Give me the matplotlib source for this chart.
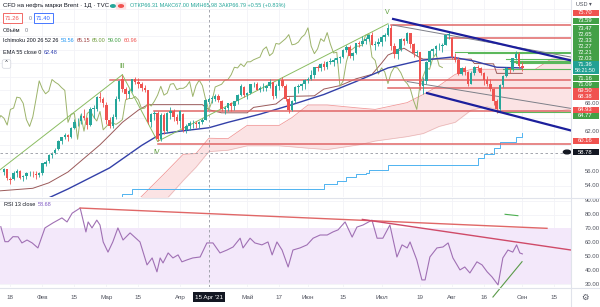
import matplotlib
matplotlib.use('Agg')
import matplotlib.pyplot as plt
import matplotlib.transforms as mtransforms
from matplotlib.patches import Rectangle, FancyBboxPatch
import numpy as np

plt.rcParams['font.family'] = ['Liberation Sans', 'DejaVu Sans']

# daily candles, 14 Jan .. 1 Sep (index = trading day)
open_ = [56.0, 56.4, 55.0, 54.9, 55.9, 56.1, 55.2, 55.4, 55.8, 55.9, 55.7, 55.5, 55.8, 57.2, 57.6, 58.5, 58.8, 59.4, 60.6, 61.1,
         61.4, 61.2, 62.5, 63.3, 63.5, 64.3, 63.9, 62.9, 65.2, 65.3, 67.0, 66.8, 65.8, 63.7, 62.8, 64.1, 66.8, 69.6, 68.2, 67.5,
         67.9, 69.6, 69.3, 68.9, 68.4, 68.0, 63.3, 64.5, 64.6, 60.8, 64.4, 62.0, 64.6, 65.0, 64.1, 63.5, 64.5, 62.2, 62.7, 63.2,
         63.2, 63.0, 63.3, 63.7, 66.3, 66.8, 66.8, 67.1, 66.5, 65.3, 65.4, 66.1, 65.7, 66.4, 67.3, 68.5, 67.3, 67.6, 68.9, 69.0,
         68.1, 68.3, 68.3, 68.6, 69.3, 67.1, 68.7, 69.5, 68.7, 66.7, 65.1, 66.4, 68.5, 68.7, 68.9, 69.5, 69.6, 70.3, 71.4, 71.3,
         71.9, 71.5, 72.2, 72.2, 72.5, 72.7, 72.9, 74.0, 74.4, 73.1, 73.5, 74.9, 74.8, 75.2, 75.6, 76.2, 74.7, 74.8, 75.1, 75.8,
         76.2, 77.2, 74.5, 73.4, 74.1, 75.6, 75.2, 76.5, 74.8, 73.5, 73.6, 68.6, 69.4, 72.2, 73.8, 74.1, 74.5, 74.5, 74.7, 76.1,
         75.7, 72.9, 72.4, 70.4, 71.3, 70.7, 69.0, 70.6, 71.4, 71.3, 70.6, 69.5, 69.0, 68.2, 66.5, 65.2, 68.8, 70.1, 71.3, 71.1,
         72.7, 73.4, 71.6]
high = [56.6, 56.5, 55.3, 56.1, 56.4, 56.3, 55.6, 56.0, 56.2, 56.2, 56.1, 56.0, 57.3, 57.8, 58.6, 59.0, 59.5, 60.7, 61.2, 61.7,
        61.6, 62.6, 63.8, 64.0, 64.6, 65.3, 64.1, 65.5, 65.8, 67.2, 67.7, 67.0, 66.3, 64.1, 64.5, 67.1, 69.5, 70.3, 68.5, 68.2,
        69.7, 70.0, 69.8, 69.2, 68.8, 68.1, 64.6, 65.0, 64.9, 64.7, 64.6, 64.8, 65.5, 65.2, 64.5, 65.1, 64.7, 63.0, 63.5, 63.7,
        63.5, 63.5, 64.0, 66.7, 67.0, 67.2, 67.5, 67.5, 66.6, 65.7, 66.2, 66.3, 66.5, 67.4, 68.9, 68.6, 67.8, 69.0, 69.3, 69.2,
        68.7, 69.1, 68.8, 69.7, 69.3, 68.9, 69.6, 70.0, 68.9, 67.0, 66.6, 68.6, 68.9, 69.1, 69.6, 70.0, 71.0, 71.4, 71.8, 72.0,
        72.3, 72.3, 72.8, 72.7, 72.9, 73.1, 74.1, 74.7, 74.6, 73.7, 74.9, 75.2, 76.0, 75.9, 76.3, 76.6, 75.3, 75.7, 76.2, 76.4,
        77.8, 77.6, 75.0, 74.2, 75.7, 75.7, 76.6, 76.5, 75.0, 74.0, 73.6, 69.9, 72.3, 73.9, 74.2, 74.7, 74.9, 75.0, 76.1, 76.6,
        75.9, 73.5, 72.9, 71.5, 71.6, 70.8, 70.9, 71.6, 71.8, 71.5, 70.7, 70.1, 69.7, 68.4, 66.7, 68.9, 70.3, 71.4, 71.5, 72.8,
        73.8, 73.7, 72.2]
low = [55.6, 54.8, 54.3, 54.8, 55.3, 55.0, 54.6, 55.0, 55.4, 55.3, 54.9, 55.2, 55.6, 56.9, 57.3, 58.0, 58.6, 59.2, 60.1, 60.8,
       60.5, 61.0, 62.3, 62.8, 63.0, 63.7, 62.3, 62.7, 64.0, 64.9, 66.3, 65.6, 63.1, 62.4, 62.4, 63.8, 66.5, 67.8, 66.8, 66.9,
       67.7, 68.9, 68.3, 67.9, 67.7, 63.1, 62.6, 63.6, 60.5, 60.6, 61.6, 61.8, 63.8, 63.5, 63.0, 62.4, 61.9, 61.8, 62.2, 62.5,
       62.4, 62.5, 63.0, 63.6, 66.0, 66.2, 66.5, 66.3, 64.9, 64.5, 65.0, 64.9, 65.1, 66.0, 67.1, 67.0, 66.8, 67.4, 68.5, 68.0,
       67.7, 67.9, 67.9, 68.3, 66.7, 66.9, 68.0, 68.5, 66.5, 64.6, 64.9, 66.2, 67.6, 68.1, 68.2, 69.1, 69.5, 69.8, 70.9, 70.9,
       71.0, 71.2, 71.9, 71.6, 72.0, 72.0, 72.8, 73.6, 72.7, 72.4, 73.3, 74.4, 74.5, 74.8, 75.2, 74.6, 74.0, 74.5, 74.5, 75.2,
       76.0, 74.0, 72.8, 72.6, 73.8, 74.7, 75.0, 74.3, 72.9, 73.0, 68.1, 67.4, 68.9, 71.8, 73.1, 73.0, 73.9, 73.6, 74.6, 75.5,
       72.6, 72.2, 70.2, 70.3, 70.3, 68.6, 68.9, 70.3, 70.8, 70.3, 68.8, 68.7, 67.9, 65.8, 64.6, 65.0, 68.5, 69.9, 70.5, 70.8,
       72.4, 71.3, 70.9]
close = [56.4, 55.1, 54.8, 55.9, 56.1, 55.1, 55.4, 55.9, 55.9, 55.8, 55.5, 55.9, 57.3, 57.5, 58.5, 58.8, 59.3, 60.6, 61.1, 61.5,
         61.1, 62.4, 63.3, 63.4, 64.3, 63.9, 62.9, 65.2, 65.4, 67.0, 66.9, 66.1, 63.7, 62.7, 64.1, 66.7, 69.4, 68.2, 67.5, 67.9,
         69.6, 69.2, 68.9, 68.4, 68.0, 63.3, 64.5, 64.6, 60.8, 64.4, 62.0, 64.6, 65.0, 64.1, 63.5, 64.9, 62.2, 62.7, 63.2, 63.2,
         63.0, 63.3, 63.7, 66.6, 66.8, 66.8, 67.1, 66.6, 65.3, 65.4, 66.1, 65.7, 66.4, 67.3, 68.6, 67.3, 67.6, 68.9, 69.0, 68.1,
         68.3, 68.3, 68.6, 69.3, 67.1, 68.7, 69.5, 68.7, 66.7, 65.1, 66.4, 68.5, 68.7, 68.9, 69.5, 69.6, 70.3, 71.4, 71.3, 71.9,
         71.5, 72.2, 72.2, 72.5, 72.7, 72.9, 74.0, 74.4, 73.1, 73.5, 74.9, 74.8, 75.2, 75.6, 76.2, 74.7, 74.8, 75.1, 75.8, 76.2,
         77.2, 74.5, 73.4, 74.1, 75.6, 75.2, 76.5, 74.8, 73.5, 73.6, 68.6, 69.4, 72.2, 73.8, 74.1, 74.5, 74.5, 74.7, 76.1, 76.3,
         72.9, 72.4, 70.4, 71.3, 70.7, 69.0, 70.6, 71.4, 71.3, 70.6, 69.5, 69.0, 68.2, 66.5, 65.2, 68.8, 70.1, 71.3, 71.1, 72.7,
         73.4, 71.6, 71.36]

# EMA 55
ema_x = [14, 20, 33, 43, 49, 55, 64, 70, 80, 90, 100, 110, 120, 130, 140, 147, 154, 162]
ema_val = [52.2, 53.5, 56.6, 59.9, 61.6, 62.0, 62.5, 63.3, 64.5, 65.9, 67.4, 69.3, 71.3, 72.4, 72.9, 72.3, 71.4, 71.3]

# Ichimoku 200 26 52 26
kijun_x = [-2, 9, 14, 20, 25, 30, 33, 37, 42, 45, 62, 64, 68, 76, 78, 85, 88, 97, 100, 105, 110, 115, 118, 120, 125,
           130, 131, 146, 147, 153, 154, 162]
kijun_val = [53.2, 53.6, 54.4, 56.0, 58.0, 60.0, 61.4, 63.3, 65.1, 65.9, 65.9, 65.15, 64.7, 64.7, 65.5, 66.0, 67.1, 67.2,
             68.2, 68.7, 69.7, 70.35, 72.0, 73.2, 74.2, 72.8, 72.6, 72.6, 71.95, 71.9, 70.5, 70.5]
conv_x = [30, 34, 37, 40, 64, 100, 104, 107, 110, 113, 114, 120, 146, 148, 150, 153, 155, 160, 162]
conv_val = [48.4, 51.0, 52.7, 53.5, 53.56, 54.2, 54.6, 55.3, 55.65, 55.8, 56.3, 57.05, 57.05, 58.0, 58.6, 59.5, 60.4, 61.2, 61.8]
cloud_x = [40, 50, 56, 60, 64, 70, 76, 86, 90, 95, 101, 111, 116, 126, 131, 136, 141, 146, 151, 156, 166, 171, 177]
span_a = [47.5, 51.6, 54.75, 56.7, 59.0, 59.2, 59.85, 59.85, 59.7, 59.5, 59.3, 60.0, 60.55, 61.2, 61.65, 62.7, 63.3,
          65.1, 65.6, 64.9, 64.8, 64.8, 65.25]
span_b = [51.0, 55.7, 58.6, 58.7, 60.96, 60.9, 62.85, 62.85, 64.0, 65.85, 65.85, 65.4, 65.2, 66.2, 67.4, 68.7, 70.35,
          71.1, 71.1, 71.1, 71.1, 72.6, 72.6]

# RSI 13
rsi_x = [-1, 0.3, 1.3, 2.8, 4.4, 5.6, 7.2, 8.8, 10.6, 12.8, 15.3, 18.1, 19.7, 21.3, 23.8, 25.6, 26.3, 27.5, 29, 30,
         31, 32.5, 34, 35.6, 37.2, 39.4, 42.5, 44.7, 46.3, 47.8, 48.8, 49.7, 51.3, 52.8, 54.4, 55.6, 57.2, 59, 61.3, 63.4,
         65.3, 67.5, 69.7, 71.6, 73.8, 74.7, 76.9, 78.4, 80.6, 82.5, 83.8, 85.3, 86.9, 88.8, 90.3, 92.5, 94.7, 96.6, 98.8, 101,
         102.8, 104.4, 106.6, 108.8, 110.3, 112.2, 115, 116.6, 118.4, 120.6, 122.8, 124.4, 126, 126.9, 129, 130.6, 131.6, 133.1,
         135.3, 137.2, 138.8, 140.3, 142.5, 144, 145.6, 147.8, 149.4, 151, 152.5, 154.4, 155.9, 157.5, 159, 160.2, 161.2, 162]
rsi_val = [71.3, 60.5, 60.5, 64.1, 64.0, 59.6, 61.7, 59.6, 56.0, 70.4, 74.0, 77.6, 74.7, 81.0, 84.7, 67.5, 74.7, 70.4, 76.0,
           72.5, 60.3, 53.0, 60.3, 70.4, 61.7, 66.8, 60.3, 43.8, 48.8, 38.8, 48.8, 45.2, 52.4, 48.8, 51.0, 46.0, 47.4, 48.8,
           49.5, 59.6, 59.6, 52.4, 54.5, 56.7, 63.0, 56.0, 63.0, 59.6, 58.2, 60.3, 51.0, 60.3, 54.5, 42.3, 54.5, 56.0,
           58.2, 63.0, 65.3, 65.3, 67.5, 69.0, 74.7, 63.8, 71.0, 72.5, 76.0, 63.0, 63.0, 72.5, 49.5, 58.2, 56.0, 60.3, 47.4,
           33.0, 33.0, 49.5, 56.0, 56.7, 59.6, 48.8, 40.2, 42.3, 38.0, 46.0, 43.8, 38.8, 35.2, 29.4, 48.8, 54.5, 53.0, 58.2,
           52.4, 51.7]

# drawn levels: (price, first bar)
red_levels = [77.6, 75.70, 69.50, 68.38, 64.93, 60.16]
red_from = [121, 138, 33, 120, 47, 48]
green_levels = [73.59, 73.47, 72.65, 72.33, 72.27, 72.21, 72.03, 71.09, 64.77]
green_from = [141, 145, 157, 158, 159, 159, 160, 156, 154]
# trend lines: x0, y0, x1, y1
blue_lines = [(121.6, 78.5, 177.2, 72.4), (132.2, 67.6, 177.2, 62.1)]
grey_lines = [(121.6, 77.6, 177.2, 72.9), (126.0, 69.3, 177.2, 65.35)]
wave_lines = [(-1.3, 56.3, 37, 70.3), (37, 70.3, 48, 60.5), (48, 60.5, 120, 77.8)]
wave_labels = ['III', 'IV', 'V']
wave_label_pos = [(37, 71.5), (47.7, 58.9), (119.7, 79.5)]
rsi_red_lines = [(23.8, 84.7, 169.7, 70.1), (112, 76.5, 177.2, 54.5)]

crosshair_bar = 64
crosshair_price = 58.78

tick_pos = [2, 12, 22, 32, 42, 55, 76, 86, 95, 106, 118, 130, 140, 150, 162, 172]
tick_lab = ['18', 'Фев', '15', 'Мар', '15', 'Апр', 'Май', '17', 'Июн', '15', 'Июл', '19', 'Авг', '16', 'Сен', '15']

badge_text = ['75.70', '73.59', '73.47', '72.65', '72.33', '72.27', '72.21', '72.03', '71.16', '71.09',
              '69.50', '68.38', '64.93', '64.77', '60.16']
badge_kind = ['r', 'g', 'g', 'g', 'g', 'g', 'g', 'g', 'g', 'g', 'r', 'r', 'r', 'g', 'r']
badge_y = [13, 21, 28, 34.5, 41, 47, 53, 59, 78, 85, 91, 97, 110, 116, 141]

W, H = 600, 307
RIGHT = 571
UP, DOWN = '#26a69a', '#ef5350'


def fx(px):
    return px / W


def fy(py):
    return 1 - py / H


fig = plt.figure(figsize=(W / 100, H / 100), dpi=100)
fig.patch.set_facecolor('white')
ax = fig.add_axes([0, fy(197), fx(RIGHT), 197 / H])
rsi = fig.add_axes([0, fy(287), fx(RIGHT), 88 / H], sharex=ax)
for a in (ax, rsi):
    a.set_facecolor('white')
    for s in a.spines.values():
        s.set_visible(False)
    a.tick_params(left=False, bottom=False, labelleft=False, labelbottom=False)

ax.set_xlim(-1.25, 177.2)
ax.set_ylim(52.32, 81.29)
rsi.set_ylim(27.9, 91.2)

# grid
for p in np.arange(54, 81, 2):
    ax.axhline(p, color='#f2f3f7', lw=0.6, zorder=0)
for v in range(30, 91, 10):
    rsi.axhline(v, color='#f2f3f7', lw=0.6, zorder=0)
for t in tick_pos:
    ax.axvline(t, color='#f2f3f7', lw=0.6, zorder=0)
    rsi.axvline(t, color='#f2f3f7', lw=0.6, zorder=0)

# ichimoku cloud and lines
ax.fill_between(cloud_x, span_a, span_b, color='#fbe3e4', lw=0, zorder=1)
ax.plot(cloud_x, span_b, color='#f19a9a', lw=0.6, zorder=2)
ax.plot(cloud_x, span_a, color='#e8b4b4', lw=0.5, zorder=2)
ax.plot(conv_x, conv_val, color='#4fb3f0', lw=0.7, drawstyle='steps-post', zorder=2)
ax.plot(kijun_x, kijun_val, color='#9b5a5a', lw=0.7, zorder=3)
idx = np.arange(len(close))
ax.plot(idx - 25, close, color='#9cb36a', lw=0.7, zorder=3)
ax.plot(ema_x, ema_val, color='#3340a8', lw=1.0, zorder=3)

# drawings
for p, x0 in zip(red_levels, red_from):
    ax.plot([x0, 177.2], [p, p], color='#e06767', lw=1.1, zorder=3)
for p, x0 in zip(green_levels, green_from):
    ax.plot([x0, 177.2], [p, p], color='#5cb85c', lw=0.8, zorder=3)
for x0, y0, x1, y1 in grey_lines:
    ax.plot([x0, x1], [y0, y1], color='#7d7f88', lw=0.7, zorder=3)
for x0, y0, x1, y1 in blue_lines:
    ax.plot([x0, x1], [y0, y1], color='#1c1f9c', lw=1.6, zorder=6)
for x0, y0, x1, y1 in wave_lines:
    ax.plot([x0, x1], [y0, y1], color='#8bbd62', lw=0.7, zorder=3)
for lab, (x, y) in zip(wave_labels, wave_label_pos):
    ax.text(x, y, lab, color='#5c9e3a', fontsize=5, ha='center', va='center', zorder=7)

# candles
o, h, l, c = map(np.array, (open_, high, low, close))
col = np.where(c >= o, UP, DOWN)
ax.vlines(idx, l, h, colors=col, lw=0.6, zorder=4)
ax.bar(idx, np.maximum(np.abs(c - o), 0.06), 0.8, bottom=np.minimum(o, c), color=col, lw=0, zorder=5)

# crosshair
ax.axhline(crosshair_price, color='#9598a1', lw=0.6, ls=(0, (3, 3)), zorder=8)
for a in (ax, rsi):
    a.axvline(crosshair_bar, color='#9598a1', lw=0.6, ls=(0, (3, 3)), zorder=8)

# RSI pane
rsi.axhspan(30, 70, color='#f3e8fa', lw=0, zorder=0)
rsi.plot(rsi_x, rsi_val, color='#a070b4', lw=0.8, zorder=3)
for (x0, y0, x1, y1), cl in zip(rsi_red_lines, ['#e06767', '#cf4a68']):
    rsi.plot([x0, x1], [y0, y1], color=cl, lw=1.0, zorder=4)
rsi.plot([156.6, 160.6], [80.2, 79.2], color='#4caf50', lw=0.8, zorder=4)
rsi.plot([152.8, 161.9], [20.7, 46.1], color='#5a9a48', lw=0.8, zorder=4, clip_on=False)

# separators
fig.add_artist(plt.Line2D([0, 1], [fy(198), fy(198)], color='#e0e3eb', lw=0.8))
fig.add_artist(plt.Line2D([0, 1], [fy(287.5), fy(287.5)], color='#e0e3eb', lw=0.8))
fig.add_artist(plt.Line2D([fx(RIGHT), fx(RIGHT)], [0, 1], color='#e0e3eb', lw=0.8))

# right price scale
ytr = ax.get_yaxis_transform()
for p in [54, 56, 62, 66]:
    ax.text(1.024, p, f'{p:.2f}', transform=ytr, fontsize=4.3, color='#50535e', ha='left', va='center', clip_on=False)
rtr = rsi.get_yaxis_transform()
for v in range(30, 91, 10):
    rsi.text(1.024, v, f'{v:.2f}', transform=rtr, fontsize=4.3, color='#50535e', ha='left', va='center', clip_on=False)

kind_col = {'r': '#f0524f', 'g': '#43a047'}
for t, k, y in zip(badge_text, badge_kind, badge_y):
    fig.add_artist(Rectangle((fx(572.5), fy(y + 3.1)), fx(26), 6.2 / H, transform=fig.transFigure,
                             color=kind_col[k], lw=0))
    fig.text(fx(585.5), fy(y), t, color='white', fontsize=4.2, ha='center', va='center')
# last price with countdown
fig.add_artist(Rectangle((fx(572.5), fy(74)), fx(26), 13 / H, transform=fig.transFigure, color='#22a093', lw=0))
fig.text(fx(585.5), fy(64.5), '71.36', color='white', fontsize=4.2, ha='center', va='center')
fig.text(fx(585.5), fy(70.8), '58:21:50', color='white', fontsize=3.8, ha='center', va='center')
# crosshair price
fig.add_artist(Rectangle((fx(572.5), fy(155.2)), fx(26), 6.4 / H, transform=fig.transFigure, color='#131722', lw=0))
fig.text(fx(585.5), fy(152), '58.78', color='white', fontsize=4.2, ha='center', va='center')
fig.add_artist(plt.Circle((fx(567), fy(152)), 0.006, transform=fig.transFigure, color='#131722'))
fig.text(fx(584), fy(5), 'USD ▾', color='#50535e', fontsize=4, ha='center', va='center')

# time axis
btr = mtransforms.blended_transform_factory(rsi.transData, rsi.transAxes)
for t, lab in zip(tick_pos, tick_lab):
    rsi.text(t, -0.114, lab, transform=btr, fontsize=4.5, color='#50535e', ha='center', va='center', clip_on=False)
rsi.text(crosshair_bar, -0.114, "15 Apr '21", transform=btr, fontsize=4.5, color='white', ha='center', va='center',
         clip_on=False, bbox=dict(boxstyle='square,pad=0.35', fc='#131722', ec='none'))
fig.text(fx(585), fy(297), '⚙', fontsize=6, color='#50535e', ha='center', va='center', family='DejaVu Sans')

# legend
renderer = fig.canvas.get_renderer()


def lt(x, y, s, color='#131722', size=4.0, **kw):
    return fig.text(fx(x), fy(y), s, color=color, fontsize=size, ha='left', va='center', **kw)


def row(x, y, parts, size=4.0, gap=2.2):
    for s, cl in parts:
        t = lt(x, y, s, color=cl, size=size)
        x = t.get_window_extent(renderer).x1 + gap


lt(3, 6, 'CFD на нефть марки Brent · 1Д · TVC', size=4.4)
fig.add_artist(plt.Circle((fx(113), fy(6)), 0.004, transform=fig.transFigure, color='#26a69a'))
fig.add_artist(FancyBboxPatch((fx(117), fy(9)), fx(8), 6 / H, boxstyle='round,pad=0.002', transform=fig.transFigure,
                              fc='#fde2e4', ec='none'))
fig.add_artist(plt.Circle((fx(121), fy(6)), 0.004, transform=fig.transFigure, color='#f0524f'))
lt(130, 6, 'ОТКР66.31 МАКС67.00 МИН65.98 ЗАКР66.79 +0.55 (+0.83%)', color='#26a69a', size=4.0)
lt(5, 18, '71.26', color='#f0524f', size=4.2, bbox=dict(boxstyle='square,pad=0.35', fc='white', ec='#f0524f', lw=0.6))
lt(29, 18, '0', color='#787b86', size=3.8)
lt(36, 18, '71.40', color='#2962ff', size=4.2, bbox=dict(boxstyle='square,pad=0.35', fc='white', ec='#2962ff', lw=0.6))
row(3, 30, [('Объём', '#131722'), ('0', '#787b86')], gap=4)
row(3, 41, [('Ichimoku 200 26 52 26', '#131722'), ('53.56', '#2196f3'), ('65.15', '#9b3b3b'),
            ('65.00', '#6e9b3a'), ('59.00', '#43a047'), ('60.96', '#f0524f')])
row(3, 53, [('EMA 55 close 0', '#131722'), ('62.48', '#2e3fb0')])
lt(4, 64, '⌃', color='#131722', size=4.3, family='DejaVu Sans',
   bbox=dict(boxstyle='round,pad=0.3', fc='white', ec='#d1d4dc', lw=0.5))
row(4, 205, [('RSI 13 close', '#131722'), ('58.68', '#7e57c2')])

fig.savefig('out.png', dpi=100, facecolor='white')
